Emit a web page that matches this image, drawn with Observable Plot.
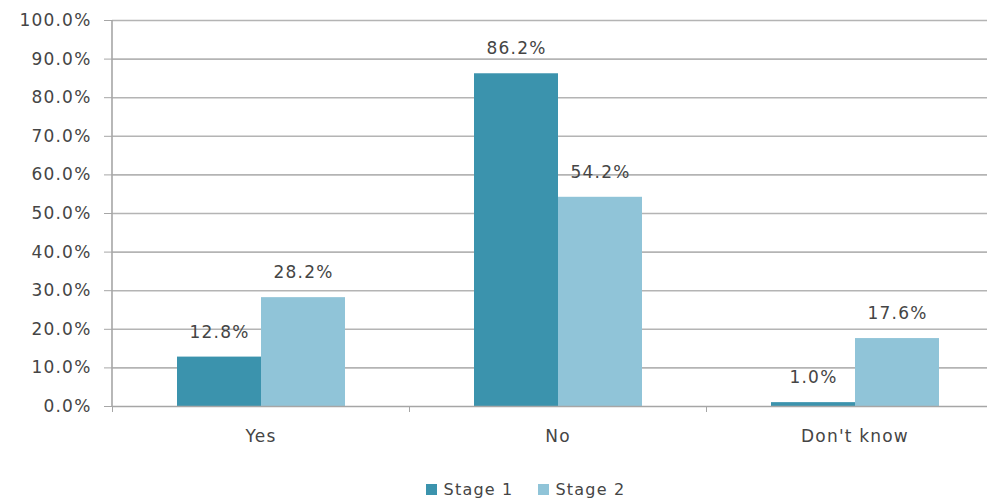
<!DOCTYPE html>
<html>
<head>
<meta charset="utf-8">
<script src="https://cdn.jsdelivr.net/npm/d3@7"></script>
<script src="https://cdn.jsdelivr.net/npm/@observablehq/plot@0.6"></script>
<style>
  html, body { margin: 0; padding: 0; background: #fff; }
  #chart { width: 987px; overflow: hidden; }
  #chart svg text { letter-spacing: 1.2px; }
  .legend { display: flex; justify-content: center; gap: 24px; font: 16px "DejaVu Sans", sans-serif; letter-spacing: 1.2px; color: #454545; height: 40px; align-items: center; margin-top: 9px; padding-left: 64px; }
  .legend span.sw { display: inline-block; width: 11px; height: 11px; margin-right: 7px; vertical-align: middle; position: relative; top: -1px; }
</style>
</head>
<body>
<div id="chart"></div>
<script>
// Responses by stage
const categories = ["Yes", "No", "Don't know"];
const stages = ["Stage 1", "Stage 2"];
const stage1 = [0.128, 0.862, 0.010];
const stage2 = [0.282, 0.542, 0.176];
const yTicks = [0, 0.1, 0.2, 0.3, 0.4, 0.5, 0.6, 0.7, 0.8, 0.9, 1.0];
const colors = ["#3b93ad", "#90c4d8"];

const rows = categories.flatMap((c, i) => [
  {category: c, stage: stages[0], value: stage1[i]},
  {category: c, stage: stages[1], value: stage2[i]}
]);

const pct = d => (d * 100).toFixed(1) + "%";
const left = 112, right = 1003;
const step = (right - left) / categories.length;
const textColor = "#454545";

const chart = Plot.plot({
  width: 987,
  height: 460,
  marginLeft: left,
  marginRight: 0,
  marginTop: 20,
  marginBottom: 54,
  style: {fontFamily: "'DejaVu Sans', sans-serif", fontSize: "16px", color: textColor, overflow: "hidden"},
  fx: {domain: categories, range: [left, right], padding: 0, axis: null, label: null},
  x: {domain: stages, paddingInner: 0, paddingOuter: 0.75, axis: null},
  y: {domain: [0, 1], axis: null},
  color: {domain: stages, range: colors},
  marks: [
    Plot.ruleY(yTicks.filter(t => t > 0), {stroke: "#b4b4b4", strokeWidth: 1.6}),
    Plot.barY(rows, {fx: "category", x: "stage", y: "value", fill: "stage"}),
    Plot.ruleY([0], {stroke: "#a6a6a6", strokeWidth: 1.6}),
    Plot.axisY({ticks: yTicks, tickFormat: pct, tickSize: 8, tickPadding: 13, stroke: "#a6a6a6", fill: textColor, fontSize: 17, label: null}),
    Plot.axisFx({anchor: "bottom", tickSize: 0, tickPadding: 23, fill: textColor, fontSize: 17, label: null}),
    Plot.axisFx({anchor: "bottom", tickSize: 6, text: null, dx: -step / 2, stroke: "#a6a6a6", label: null}),
    Plot.text(rows, {fx: "category", x: "stage", y: "value", text: d => pct(d.value), dy: -25, fill: textColor, fontSize: 17})
  ]
});

// vertical axis line on the left edge
const svg = d3.select(chart);
svg.append("line")
  .attr("x1", left).attr("x2", left)
  .attr("y1", 20).attr("y2", 460 - 54)
  .attr("stroke", "#a6a6a6").attr("stroke-width", 1.6);

document.getElementById("chart").appendChild(chart);

const legend = document.createElement("div");
legend.className = "legend";
legend.innerHTML = stages.map((s, i) =>
  `<div><span class="sw" style="background:${colors[i]}"></span>${s}</div>`).join("");
document.getElementById("chart").appendChild(legend);
</script>
</body>
</html>
